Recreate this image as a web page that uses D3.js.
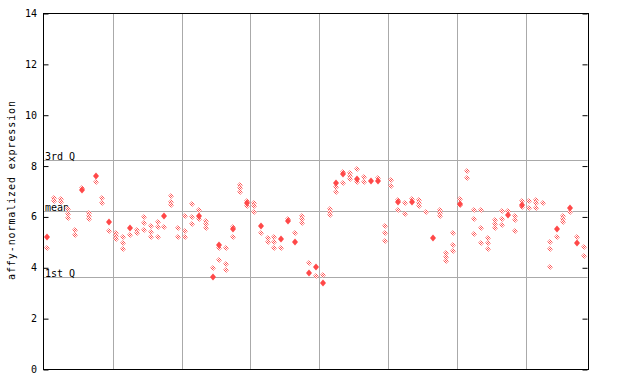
<!DOCTYPE html>
<html>
<head>
<meta charset="utf-8">
<script src="https://cdn.jsdelivr.net/npm/d3@7"></script>
<style>
body { margin: 0; background: #fff; }
text { font-family: "DejaVu Sans Mono", monospace; font-size: 10px; fill: #000; }
</style>
</head>
<body>
<svg width="640" height="384"></svg>
<script>
// samples per group (grid line after each group)
var groupSizes = [10, 10, 10, 10, 10, 10, 10, 9];

// solid marks, one per sample (null = none)
var filled = [
  5.22, null, null, null, null, 7.06, null, 7.59, null, 5.81,
  null, null, 5.58, null, null, null, null, 6.04, null, null,
  null, null, 6.04, null, 3.65, 4.88, null, 5.53, null, 6.56,
  null, 5.64, null, null, 5.12, 5.85, 5.03, null, 3.80, 4.04,
  3.41, null, 7.33, 7.69, null, 7.48, null, 7.40, 7.40, null,
  null, 6.59, null, 6.59, null, null, 5.16, null, null, null,
  6.52, null, null, null, null, null, null, 6.09, null, 6.48,
  null, null, null, null, 5.54, null, 6.36, 4.97, null
];

// open marks (replicates) per sample
var hollow = [
  [4.76], [6.75, 6.63], [6.72, 6.59], [6.30, 6.12, 5.95], [5.49, 5.28],
  [7.14], [6.14, 6.02, 5.90], [7.37], [6.74, 6.54], [5.45],
  [5.36, 5.24, 5.12], [5.22, 4.96, 4.73], [5.28], [5.49, 5.38], [6.01, 5.75, 5.49],
  [5.64, 5.42, 5.22], [5.80, 5.59, 5.20], [5.59], [6.83, 6.60, 6.47], [5.55, 5.22],
  [6.04, 5.44, 5.20], [6.50, 5.99, 5.71], [6.27, 5.91], [5.84, 5.71, 5.58], [3.99],
  [4.77, 4.30], [4.77, 4.14, 3.91], [5.59, 5.20], [7.26, 7.13, 7.00], [6.63, 6.43],
  [6.54, 6.43, 6.18], [5.36], [5.18, 5.00], [5.20, 5.00, 4.77], [4.77],
  [5.93], [5.36], [6.04, 5.91, 5.78], [4.17], [3.66],
  [3.70], [6.30, 6.19, 6.08], [7.19, 6.97], [7.75, 7.35], [7.72, 7.61, 7.50],
  [7.88, 7.37], [7.56, 7.38], [], [7.52], [5.64, 5.36, 5.04],
  [7.46, 7.21], [6.68, 6.26], [6.54, 6.12], [6.70], [6.67, 6.55, 6.43],
  [6.20], [], [6.26, 6.14, 6.04], [4.57, 4.42, 4.28], [5.36, 4.90, 4.65],
  [6.72, 6.46], [7.80, 7.52], [6.26, 5.91, 5.32], [6.26, 5.55, 4.96], [5.16, 4.96, 4.73],
  [5.87, 5.71, 5.55], [6.22, 5.91, 5.67], [6.22], [6.04, 5.87, 5.44], [6.62, 6.40],
  [6.62, 6.34], [6.66, 6.55, 6.34], [6.54], [5.00, 4.73, 4.02], [5.20],
  [6.04, 5.91, 5.81], [6.18], [5.22], [4.80, 4.45]
];

var yTicks = [0, 2, 4, 6, 8, 10, 12, 14];
var refNames = ["3rd Q", "mean", "1st Q"];
var refValues = [8.24, 6.22, 3.62];

var svg = d3.select("svg");
var pL = 44, pR = 587.5, pT = 13.5, pB = 369.5;
var n = filled.length;

var x = d3.scaleLinear().domain([-0.5, n - 0.5]).range([pL, pR]);
var y = d3.scaleLinear().domain([0, 14]).range([pB, pT]);
var crisp = v => Math.round(v) + 0.5;

// checkerboard fill for open marks
var pat = svg.append("defs").append("pattern")
  .attr("id", "chk").attr("patternUnits", "userSpaceOnUse")
  .attr("width", 2).attr("height", 2);
pat.append("rect").attr("width", 2).attr("height", 2).attr("fill", "#fff");
pat.append("rect").attr("width", 1).attr("height", 1).attr("fill", "#ff5a5a");
pat.append("rect").attr("x", 1).attr("y", 1).attr("width", 1).attr("height", 1).attr("fill", "#ff5a5a");

// group separators
var bounds = d3.cumsum(groupSizes).slice(0, -1);
svg.append("g").selectAll("line").data(bounds).enter().append("line")
  .attr("x1", d => crisp(x(d - 0.5))).attr("x2", d => crisp(x(d - 0.5)))
  .attr("y1", pT).attr("y2", pB)
  .attr("stroke", "#aaa").attr("stroke-width", 1);

// reference lines
svg.append("g").selectAll("line").data(refValues).enter().append("line")
  .attr("x1", pL).attr("x2", pR)
  .attr("y1", d => crisp(y(d))).attr("y2", d => crisp(y(d)))
  .attr("stroke", "#aaa").attr("stroke-width", 1);

svg.append("g").selectAll("text").data(refValues).enter().append("text")
  .attr("x", pL + 1).attr("y", d => Math.round(y(d)))
  .text((d, i) => refNames[i]);

// frame
svg.append("rect")
  .attr("x", crisp(pL) - 1).attr("y", crisp(pT) - 1)
  .attr("width", Math.round(pR - pL) + 1).attr("height", Math.round(pB - pT))
  .attr("fill", "none").attr("stroke", "#000").attr("stroke-width", 1);

// y axes, ticks inward
var yl = svg.append("g").attr("transform", "translate(" + (crisp(pL) - 1) + ",0)")
  .call(d3.axisRight(y).tickValues(yTicks).tickSize(5).tickFormat(""));
yl.select(".domain").remove();
yl.selectAll("line").attr("stroke", "#000");

var yr = svg.append("g").attr("transform", "translate(" + (crisp(pR) - 1) + ",0)")
  .call(d3.axisLeft(y).tickValues(yTicks).tickSize(5).tickFormat(""));
yr.select(".domain").remove();
yr.selectAll("line").attr("stroke", "#000");

svg.append("g").selectAll("text").data(yTicks).enter().append("text")
  .attr("x", 37).attr("y", d => y(d)).attr("dy", "0.35em")
  .attr("text-anchor", "end").text(d => d);

svg.append("text")
  .attr("transform", "translate(15,190) rotate(-90)")
  .attr("text-anchor", "middle").attr("letter-spacing", "0.9px")
  .text("affy-normalized expression");

// marks
var openPts = [];
hollow.forEach((vals, i) => vals.forEach(v => openPts.push([i, v])));

svg.append("g").selectAll("path").data(openPts).enter().append("path")
  .attr("d", "M0,-3L3,0L0,3L-3,0Z")
  .attr("transform", d => "translate(" + Math.round(x(d[0])) + "," + Math.round(y(d[1])) + ")")
  .attr("fill", "url(#chk)");

svg.append("g").selectAll("path").data(filled.map((v, i) => [i, v]).filter(d => d[1] != null))
  .enter().append("path")
  .attr("d", "M0,-3.5L3,0L0,3.5L-3,0Z")
  .attr("transform", d => "translate(" + Math.round(x(d[0])) + "," + Math.round(y(d[1])) + ")")
  .attr("fill", "#ff4848");
</script>
</body>
</html>
